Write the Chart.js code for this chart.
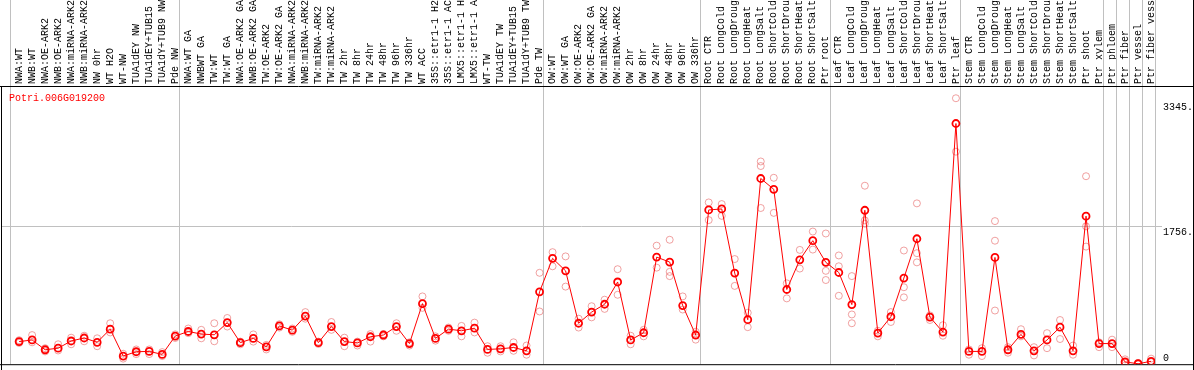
<!DOCTYPE html>
<html>
<head>
<meta charset="utf-8">
<script src="https://cdn.jsdelivr.net/npm/chart.js@4.4.1/dist/chart.umd.min.js"></script>
<style>
  html, body { margin: 0; padding: 0; background: #fff; }
  #wrap { width: 1194px; height: 370px; position: relative; }
</style>
</head>
<body>
<div id="wrap"><canvas id="expr"></canvas></div>
<script>
const geneName = "Potri.006G019200";

const samples = [
  "NWA:WT", "NWB:WT", "NWA:OE-ARK2", "NWB:OE-ARK2", "NWA:miRNA-ARK2", "NWB:miRNA-ARK2",
  "NW 0hr", "WT H2O", "WT-NW", "TUA1dEY NW", "TUA1dEY+TUB15 NW", "TUA1dY+TUB9 NW", "Pde NW",
  "NWA:WT GA", "NWBWT GA", "TW:WT", "TW:WT GA", "NWA:OE-ARK2 GA", "NWB:OE-ARK2 GA",
  "TW:OE-ARK2", "TW:OE-ARK2 GA", "NWA:miRNA-ARK2 GA", "NWB:miRNA-ARK2 GA", "TW:miRNA-ARK2",
  "TW:miRNA-ARK2 GA", "TW 2hr", "TW 8hr", "TW 24hr", "TW 48hr", "TW 96hr", "TW 336hr",
  "WT ACC", "35S::etr1-1 H2O", "35S::etr1-1 ACC", "LMX5::etr1-1 H2O", "LMX5::etr1-1 ACC",
  "WT-TW", "TUA1dEY TW", "TUA1dEY+TUB15 TW", "TUA1dY+TUB9 TW", "Pde TW",
  "OW:WT", "OW:WT GA", "OW:OE-ARK2", "OW:OE-ARK2 GA", "OW:miRNA-ARK2", "OW:miRNA-ARK2 GA",
  "OW 2hr", "OW 8hr", "OW 24hr", "OW 48hr", "OW 96hr", "OW 336hr",
  "Root CTR", "Root LongCold", "Root LongDrought", "Root LongHeat", "Root LongSalt",
  "Root ShortCold", "Root ShortDrought", "Root ShortHeat", "Root ShortSalt", "Ptr root",
  "Leaf CTR", "Leaf LongCold", "Leaf LongDrought", "Leaf LongHeat", "Leaf LongSalt",
  "Leaf ShortCold", "Leaf ShortDrought", "Leaf ShortHeat", "Leaf ShortSalt", "Ptr leaf",
  "Stem CTR", "Stem LongCold", "Stem LongDrought", "Stem LongHeat", "Stem LongSalt",
  "Stem ShortCold", "Stem ShortDrought", "Stem ShortHeat", "Stem ShortSalt", "Ptr shoot",
  "Ptr xylem", "Ptr phloem", "Ptr fiber", "Ptr vessel", "Ptr fiber vessel"
];

// mean expression per sample
const means = [
  282, 303, 178, 198, 290, 328, 273, 441, 98, 153,
  157, 119, 353, 411, 378, 369, 524, 269, 323, 215,
  482, 428, 607, 269, 474, 282, 265, 344, 366, 474,
  257, 766, 323, 441, 420, 453, 182, 190, 207, 165,
  917, 1343, 1184, 516, 658, 758, 1042, 303, 395, 1359,
  1296, 741, 366, 1960, 1973, 1155, 561, 2361, 2223, 946,
  1325, 1568, 1292, 1163, 754, 1956, 391, 599, 1092, 1593,
  595, 403, 3062, 157, 157, 1355, 178, 374, 165, 303,
  466, 165, 1881, 257, 257, 23, 0, 31
];

// replicates
const rep1 = [
  300, 365, 198, 248, 332, 357, 324, 516, 127, 182,
  182, 148, 374, 449, 432, 516, 583, 282, 374, 240,
  503, 449, 658, 282, 532, 332, 282, 378, 378, 516,
  273, 858, 349, 461, 482, 524, 223, 223, 273, 232,
  1159, 1422, 1368, 574, 733, 816, 1205, 357, 432, 1505,
  1580, 858, 407, 2056, 2035, 1334, 649, 2578, 2370, 1025,
  1451, 1685, 1660, 1380, 1117, 2269, 420, 658, 1443, 2044,
  616, 491, 3384, 182, 198, 1818, 211, 440, 211, 390,
  557, 232, 2390, 273, 307, 56, 10, 65
];
const rep2 = [
  265, 273, 157, 169, 248, 286, 223, 399, 65, 123,
  123, 98, 328, 390, 324, 286, 474, 248, 282, 182,
  461, 407, 574, 252, 432, 223, 232, 282, 349, 420,
  232, 712, 294, 420, 349, 399, 140, 157, 165, 115,
  666, 1242, 983, 461, 591, 699, 879, 248, 349, 1225,
  1117, 691, 307, 1831, 1885, 992, 466, 2520, 1923, 833,
  1213, 1455, 1184, 1242, 628, 1827, 349, 532, 975, 1409,
  557, 357, 2703, 115, 98, 1568, 140, 349, 106, 198,
  315, 115, 1751, 211, 211, 10, 0, 20
];
const rep3 = [
  null, null, null, null, null, null, null, null, null, null,
  null, null, null, null, null, null, null, null, null, null,
  null, null, null, null, null, null, null, null, null, null,
  null, null, null, null, null, null, null, null, null, null,
  null, null, null, null, null, null, null, null, null, null,
  1171, null, null, null, null, null, null, 1985, null, null,
  null, null, 1067, 866, 516, 1785, null, null, 846, 1292,
  null, null, null, null, null, 678, null, null, null, null,
  null, null, 1493, null, null, null, null, null
];

// sample index where each tissue group starts (last = end)
const groupStarts = [0, 13, 41, 53, 63, 73, 84, 85, 86, 87, 88];
const yTicks = [0, 1756, 3345];

const X_MIN = -0.7;
const FONT = "'Liberation Mono', 'DejaVu Sans Mono', monospace";

const repPoints = [];
[rep1, rep2, rep3].forEach(r => r.forEach((v, i) => {
  if (v !== null) repPoints.push({ x: i, y: v });
}));

const framePlugin = {
  id: "frame",
  beforeDatasetsDraw(chart) {
    const { ctx, chartArea: a, scales: { x, y } } = chart;
    ctx.save();
    ctx.lineWidth = 1;

    // group separators run through the label strip too
    ctx.strokeStyle = "#c0c0c0";
    groupStarts.forEach(k => {
      const px = Math.round(x.getPixelForValue(k + X_MIN)) + 0.5;
      ctx.beginPath();
      ctx.moveTo(px, 0);
      ctx.lineTo(px, a.bottom);
      ctx.stroke();
    });
    yTicks.filter(v => v > 0 && v < 3000).forEach(v => {
      const py = Math.round(y.getPixelForValue(v)) + 0.5;
      ctx.beginPath();
      ctx.moveTo(1, py);
      ctx.lineTo(a.right + 7, py);
      ctx.stroke();
    });

    // black frame
    ctx.strokeStyle = "#000";
    ctx.beginPath();
    ctx.moveTo(0, a.top + 0.5); ctx.lineTo(chart.width, a.top + 0.5);
    ctx.moveTo(0, a.bottom + 0.5); ctx.lineTo(chart.width, a.bottom + 0.5);
    ctx.moveTo(1.5, a.top); ctx.lineTo(1.5, chart.height);
    ctx.moveTo(chart.width - 0.5, 0); ctx.lineTo(chart.width - 0.5, chart.height);
    ctx.stroke();

    // value labels on the right
    ctx.font = "10px " + FONT;
    ctx.fillStyle = "#000";
    ctx.textAlign = "left";
    ctx.textBaseline = "alphabetic";
    yTicks.forEach(v => {
      const py = y.getPixelForValue(v);
      ctx.fillText(v === 0 ? "0" : v + ".", a.right + 8, v === 0 ? py - 3 : py + 9);
    });

    // gene name
    ctx.fillStyle = "#ff0000";
    ctx.fillText(geneName, 9, a.top + 14.5);
    ctx.restore();
  }
};

new Chart(document.getElementById("expr"), {
  type: "line",
  data: {
    datasets: [
      {
        label: "mean",
        data: means.map((v, i) => ({ x: i, y: v })),
        borderColor: "#ff0000",
        borderWidth: 1,
        pointRadius: 3.5,
        pointBorderWidth: 1.8,
        pointBorderColor: "#ff0000",
        pointBackgroundColor: "rgba(255,255,255,0)",
        tension: 0,
        fill: false
      },
      {
        label: "replicates",
        data: repPoints,
        showLine: false,
        pointRadius: 3.5,
        pointBorderWidth: 1,
        pointBorderColor: "rgba(232,110,110,0.65)",
        pointBackgroundColor: "rgba(255,255,255,0)"
      }
    ]
  },
  options: {
    responsive: true,
    maintainAspectRatio: false,
    animation: false,
    layout: { padding: { left: 10, right: 39, top: 0, bottom: 1 } },
    plugins: { legend: { display: false }, tooltip: { enabled: false } },
    scales: {
      x: {
        type: "linear",
        position: "top",
        min: X_MIN,
        max: X_MIN + samples.length,
        bounds: "data",
        grid: { display: false, drawTicks: false },
        border: { display: false },
        afterBuildTicks: s => { s.ticks = samples.map((_, i) => ({ value: i })); },
        afterFit: s => { s.height = 86; },
        ticks: {
          autoSkip: false,
          minRotation: 90,
          maxRotation: 90,
          padding: 2,
          labelOffset: 12,
          color: "#000",
          font: { family: FONT, size: 10 },
          callback: v => samples[v]
        }
      },
      y: {
        display: false,
        min: -6,
        max: 3540
      }
    }
  },
  plugins: [framePlugin]
});
</script>
</body>
</html>
